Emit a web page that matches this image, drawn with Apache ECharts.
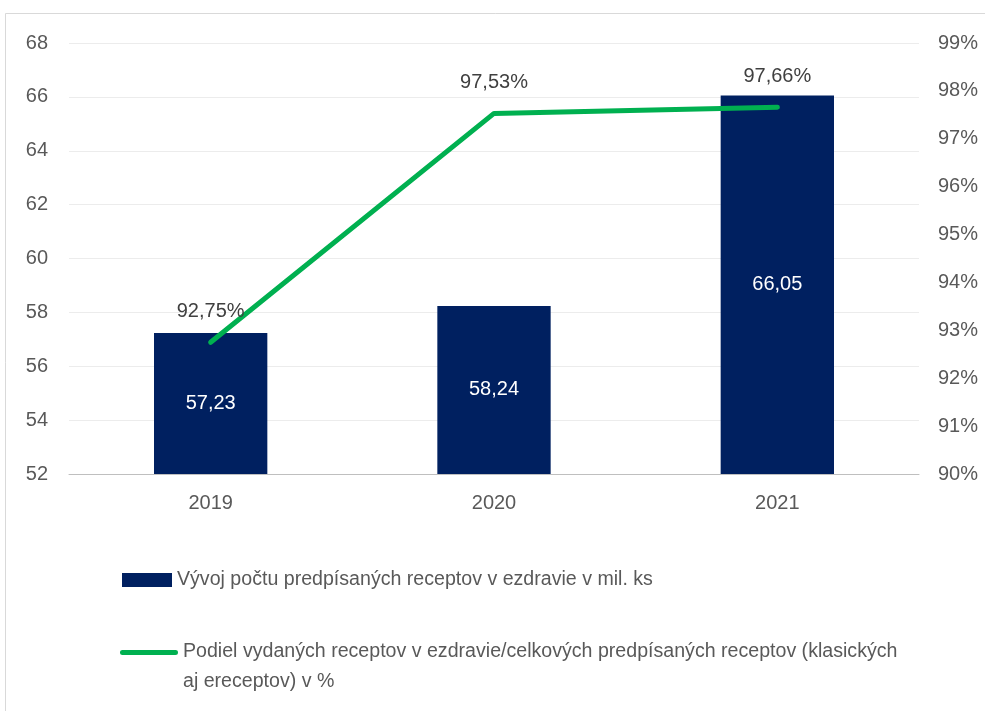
<!DOCTYPE html>
<html>
<head>
<meta charset="utf-8">
<script src="https://cdn.jsdelivr.net/npm/echarts@6/dist/echarts.min.js"></script>
<style>
  html, body { margin: 0; padding: 0; background: #fff; }
  #view { width: 985px; height: 711px; }
</style>
</head>
<body>
<div id="view"></div>
<script>
var years = ['2019', '2020', '2021'];
var receptyMil = [57.23, 58.24, 66.05];
var podielPct = [92.75, 97.53, 97.66];
var barName = 'Vývoj počtu predpísaných receptov v ezdravie v mil. ks';
var lineName = 'Podiel vydaných receptov v ezdravie/celkových predpísaných receptov (klasických aj ereceptov) v %';

function comma(v, d) {
    return v.toFixed(d).replace('.', ',');
}

var myChart = echarts.init(document.getElementById('view'));
var font = '"Liberation Sans", Arial, sans-serif';
var fs = 20;
var lfs = 19.6;
// line icon sits on the first text row: tiny dot at the bottom stretches the box
var lineIcon = 'path://M2.5,0h51a2.5,2.5,0,0,1,0,5h-51a2.5,2.5,0,0,1,0,-5z M0,34h0.01v0.01h-0.01z';
var option = {
    backgroundColor: '#fff',
    textStyle: { fontFamily: font },
    graphic: [{
        type: 'rect',
        shape: { x: 5.5, y: 13.5, width: 1000, height: 720 },
        style: { fill: 'none', stroke: '#d9d9d9', lineWidth: 1 },
        silent: true
    }],
    grid: { left: 69, right: 66, top: 43, bottom: 237, outerBoundsMode: 'none' },
    legend: [{
        data: [{ name: barName, icon: 'rect' }],
        left: 117, top: 565,
        orient: 'vertical',
        itemWidth: 50, itemHeight: 14, itemGap: 6,
        textStyle: { color: '#595959', fontSize: lfs, fontFamily: font }
    }, {
        data: [{ name: lineName, icon: lineIcon }],
        left: 115, top: 632,
        orient: 'vertical',
        symbolKeepAspect: false,
        itemWidth: 58, itemHeight: 34, itemGap: 4,
        formatter: function (n) { return n.replace(' aj ', '\naj '); },
        textStyle: { color: '#595959', fontSize: lfs, fontFamily: font, lineHeight: 30 }
    }],
    xAxis: {
        type: 'category',
        data: years,
        axisTick: { show: false },
        axisLine: { lineStyle: { color: '#bfbfbf', width: 1 } },
        axisLabel: { color: '#595959', fontSize: fs, margin: 19 }
    },
    yAxis: [{
        type: 'value',
        min: 52, max: 68, interval: 2,
        axisLine: { show: false },
        axisTick: { show: false },
        axisLabel: { color: '#595959', fontSize: fs, margin: 21 },
        splitLine: { lineStyle: { color: '#ececec', width: 1 } }
    }, {
        type: 'value',
        min: 90, max: 99, interval: 1,
        axisLine: { show: false },
        axisTick: { show: false },
        axisLabel: { color: '#595959', fontSize: fs, margin: 19, formatter: function (v) { return v + '%'; } },
        splitLine: { show: false }
    }],
    series: [{
        name: barName,
        type: 'bar',
        data: receptyMil,
        barWidth: '40%',
        itemStyle: { color: '#002060' },
        label: {
            show: true, position: 'inside', color: '#fff', fontSize: fs,
            formatter: function (p) { return comma(p.value, 2); }
        }
    }, {
        name: lineName,
        type: 'line',
        yAxisIndex: 1,
        data: podielPct,
        symbol: 'circle',
        symbolSize: 1,
        showSymbol: true,
        lineStyle: { color: '#00b050', width: 5, cap: 'round' },
        itemStyle: { color: '#00b050' },
        label: {
            show: true, position: 'top', distance: 20, color: '#404040', fontSize: fs,
            formatter: function (p) { return comma(p.value, 2) + '%'; }
        }
    }]
};
myChart.setOption(option);
</script>
</body>
</html>
